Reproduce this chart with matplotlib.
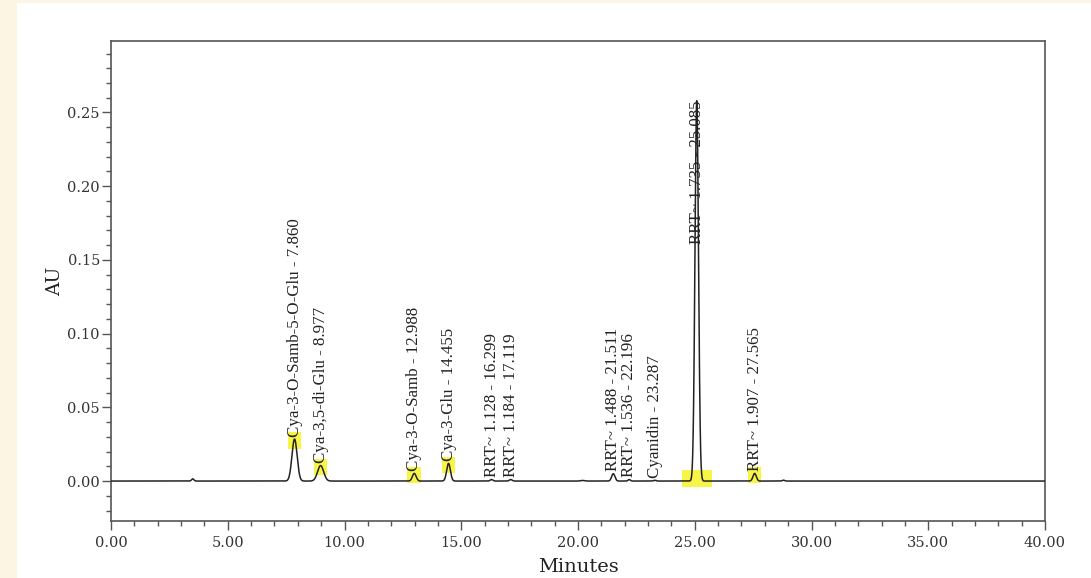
import numpy as np
import matplotlib
matplotlib.use("Agg")
import matplotlib.pyplot as plt
from matplotlib.patches import Rectangle
from matplotlib.ticker import MultipleLocator, FormatStrFormatter

# Labelled chromatogram peaks: retention time (min), height (AU), width (sigma, min)
peak_rt = [7.860, 8.977, 12.988, 14.455, 16.299, 17.119, 21.511, 22.196, 23.287, 25.085, 27.565]
peak_height = [0.0285, 0.0105, 0.0052, 0.0120, 0.0010, 0.0010, 0.0050, 0.0010, 0.0005, 0.2580, 0.0052]
peak_sigma = [0.11, 0.13, 0.08, 0.08, 0.06, 0.06, 0.07, 0.05, 0.05, 0.075, 0.07]
peak_names = [
    "Cya-3-O-Samb-5-O-Glu - 7.860",
    "Cya-3,5-di-Glu - 8.977",
    "Cya-3-O-Samb - 12.988",
    "Cya-3-Glu - 14.455",
    "RRT~ 1.128 - 16.299",
    "RRT~ 1.184 - 17.119",
    "RRT~ 1.488 - 21.511",
    "RRT~ 1.536 - 22.196",
    "Cyanidin - 23.287",
    "RRT~ 1.735 - 25.085",
    "RRT~ 1.907 - 27.565",
]
highlighted = [True, True, True, True, False, False, False, False, False, True, True]

# Unlabelled minor bumps
minor_rt = [3.50, 20.20, 28.80]
minor_height = [0.0015, 0.0004, 0.0006]
minor_sigma = [0.05, 0.08, 0.05]

x_ticks = [0, 5, 10, 15, 20, 25, 30, 35, 40]
y_ticks = [0.00, 0.05, 0.10, 0.15, 0.20, 0.25]

t = np.linspace(0, 40, 20001)
signal = np.zeros_like(t)
for rt, h, s in zip(peak_rt + minor_rt, peak_height + minor_height, peak_sigma + minor_sigma):
    signal += h * np.exp(-0.5 * ((t - rt) / s) ** 2)

fig = plt.figure(figsize=(10.91, 5.78), dpi=100, facecolor="white")
# cream page margin along the left and top edges
cream = "#fcf5e4"
fig.add_artist(Rectangle((0, 0), 17 / 1091, 1, transform=fig.transFigure,
                         facecolor=cream, edgecolor="none", zorder=-5))
fig.add_artist(Rectangle((0, 575 / 578), 1, 3 / 578, transform=fig.transFigure,
                         facecolor=cream, edgecolor="none", zorder=-5))

ax = fig.add_axes([111 / 1091, 57 / 578, 934 / 1091, 480 / 578])
ax.set_zorder(2)
ax.set_facecolor("white")
ax.plot(t, signal, color="#222222", lw=1.1, zorder=3)

ax.set_xlim(0, 40)
ax.set_ylim(-0.0271, 0.2985)

ax.set_xticks(x_ticks)
ax.set_yticks(y_ticks)
ax.xaxis.set_minor_locator(MultipleLocator(1))
ax.yaxis.set_minor_locator(MultipleLocator(0.01))
ax.xaxis.set_major_formatter(FormatStrFormatter("%.2f"))
ax.yaxis.set_major_formatter(FormatStrFormatter("%.2f"))

for sp in ax.spines.values():
    sp.set_color("#555555")
    sp.set_linewidth(1.2)
ax.tick_params(which="both", direction="out", color="#555555", width=1.0,
               labelcolor="#333333", labelsize=10.5)
ax.tick_params(which="major", length=6.5)
ax.tick_params(which="minor", length=3.3)
ax.tick_params(axis="y", which="major", pad=1.5)
ax.tick_params(axis="x", which="major", pad=4)
for lab in ax.get_xticklabels() + ax.get_yticklabels():
    lab.set_family("DejaVu Serif")

ax.set_xlabel("Minutes", family="DejaVu Serif", fontsize=14, color="#222222", labelpad=6)
ax.set_ylabel("AU", family="DejaVu Serif", fontsize=13.5, color="#222222", labelpad=2)

# Peak annotations, rotated and sitting just above each apex
for rt, h, name, hl in zip(peak_rt, peak_height, peak_names, highlighted):
    y_text = h + 0.0015 if h < 0.1 else 0.161
    ax.text(rt, y_text, name, rotation=90, ha="center", va="bottom",
            family="Liberation Serif", fontsize=12.2, color="#222222", zorder=4)
    if hl:
        half_w = 0.29 if h < 0.1 else 0.64
        if h < 0.1:
            y0, hh = h - 0.0065, 0.0110
        else:
            y0, hh = -0.0040, 0.0115
        ax.add_patch(Rectangle((rt - half_w, y0), 2 * half_w, hh,
                               facecolor="#f5f20a", alpha=0.75,
                               edgecolor="none", zorder=2))

fig.savefig("out.png", dpi=100)
